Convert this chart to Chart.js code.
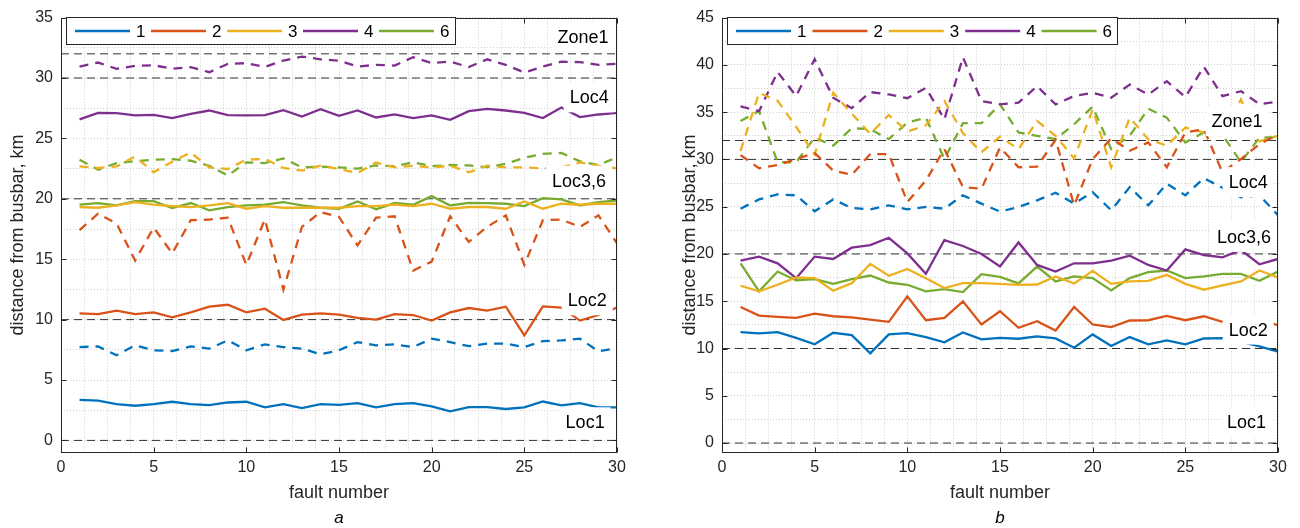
<!DOCTYPE html>
<html><head><meta charset="utf-8">
<script src="https://cdn.jsdelivr.net/npm/chart.js@4.4.1/dist/chart.umd.min.js"></script>
<style>
html,body{margin:0;padding:0;background:#fff;}
#wrap{position:relative;width:1300px;height:528px;overflow:hidden;}
.cv{position:absolute;top:0;width:650px;height:528px;}
</style></head><body>
<div id="wrap">
<div class="cv" style="left:0"><canvas id="ca" width="650" height="528"></canvas></div>
<div class="cv" style="left:650px"><canvas id="cb" width="650" height="528"></canvas></div>
</div>
<script>
// ---------- data ----------
const faultNumbers = [1,2,3,4,5,6,7,8,9,10,11,12,13,14,15,16,17,18,19,20,21,22,23,24,25,26,27,28,29,30];
const seriesNames = ['1','2','3','4','6'];
const xTickLabels = [0,5,10,15,20,25,30];
const yTickLabelsA = [0,5,10,15,20,25,30,35];
const yTickLabelsB = [0,5,10,15,20,25,30,35,40,45];
const refLevels = [0,10,20,30,32];

// panel a, solid lines
const a1Solid = [3.36,3.30,3.00,2.87,3.00,3.20,3.00,2.92,3.14,3.20,2.73,3.00,2.68,3.00,2.95,3.09,2.73,3.00,3.09,2.81,2.40,2.75,2.75,2.60,2.73,3.22,2.90,3.09,2.73,2.73];
const a2Solid = [10.52,10.46,10.74,10.46,10.60,10.19,10.60,11.07,11.23,10.60,10.90,9.97,10.41,10.52,10.41,10.14,10.00,10.46,10.38,9.92,10.60,10.96,10.74,11.07,8.69,11.09,11.00,9.92,10.38,11.00];
const a3Solid = [19.32,19.26,19.45,19.73,19.51,19.40,19.32,19.45,19.64,19.18,19.40,19.26,19.26,19.26,19.26,19.40,19.40,19.51,19.40,19.59,19.18,19.32,19.32,19.18,19.78,19.18,19.59,19.51,19.59,19.59];
const a4Solid = [26.57,27.12,27.09,26.90,26.95,26.68,27.03,27.31,26.92,26.90,26.92,27.34,26.81,27.42,26.87,27.31,26.73,26.98,26.68,26.90,26.54,27.25,27.45,27.31,27.12,26.68,27.56,26.76,26.98,27.12];
const a6Solid = [19.51,19.65,19.45,19.81,19.81,19.24,19.65,19.05,19.32,19.45,19.51,19.73,19.45,19.26,19.18,19.78,19.13,19.65,19.51,20.22,19.45,19.67,19.65,19.59,19.40,20.06,19.95,19.45,19.73,19.86];
// panel a, dashed lines
const a1Dash = [7.73,7.78,7.05,7.87,7.46,7.40,7.78,7.60,8.28,7.46,7.95,7.73,7.60,7.13,7.46,8.14,7.87,7.95,7.73,8.42,8.14,7.80,8.01,8.01,7.73,8.22,8.28,8.42,7.38,7.65];
const a2Dash = [17.40,18.77,17.95,14.89,17.62,15.48,18.23,18.28,18.44,14.53,18.30,12.48,17.68,18.90,18.50,16.14,18.44,18.55,14.06,14.80,18.55,16.44,17.68,18.63,14.53,18.23,18.28,17.68,18.63,16.31];
const a3Dash = [22.68,22.55,22.68,23.50,22.20,23.07,23.83,22.60,22.47,23.24,23.30,22.55,22.33,22.74,22.47,22.14,23.01,22.60,22.74,22.60,22.74,22.20,22.74,22.60,22.60,22.52,22.60,23.01,22.74,22.52];
const a4Dash = [30.95,31.28,30.76,31.00,31.06,30.76,30.90,30.48,31.17,31.23,30.92,31.44,31.77,31.55,31.44,30.95,31.09,31.03,31.72,31.23,31.36,30.90,31.55,31.09,30.45,30.95,31.36,31.31,31.09,31.17];
const a6Dash = [23.23,22.41,22.96,23.12,23.23,23.29,23.15,22.74,21.92,23.01,22.96,23.34,22.60,22.66,22.60,22.50,22.76,22.70,23.03,22.70,22.80,22.76,22.62,22.90,23.40,23.72,23.80,23.10,22.80,23.44];

// panel b, solid lines
const b1Solid = [11.73,11.60,11.73,11.13,10.44,11.66,11.42,9.49,11.49,11.63,11.21,10.65,11.70,10.96,11.13,11.03,11.28,11.06,10.08,11.49,10.26,11.21,10.44,10.86,10.44,11.06,11.10,10.70,10.23,9.67];
const b2Solid = [14.39,13.48,13.34,13.24,13.69,13.41,13.30,13.06,12.82,15.51,12.99,13.24,14.99,12.54,13.94,12.19,12.89,11.91,14.39,12.54,12.26,12.96,12.99,13.45,12.99,13.41,12.82,12.90,13.00,12.47];
const b3Solid = [16.64,16.04,16.74,17.51,17.44,16.11,16.91,18.95,17.69,18.42,17.44,16.39,16.91,16.91,16.84,16.74,16.77,17.62,16.87,18.21,16.84,17.09,17.16,17.79,16.84,16.22,16.67,17.09,18.25,17.51];
const b4Solid = [19.30,19.72,19.01,17.44,19.72,19.47,20.66,20.94,21.71,20.06,17.90,21.47,20.84,20.00,18.67,21.22,18.84,18.14,19.01,19.01,19.30,19.82,18.84,18.25,20.48,19.89,19.65,20.42,18.91,19.47];
const b6Solid = [19.01,16.04,18.14,17.20,17.34,16.84,17.34,17.72,16.98,16.74,16.04,16.28,15.97,17.86,17.58,16.88,18.67,17.09,17.62,17.44,16.15,17.44,18.07,18.25,17.44,17.62,17.90,17.90,17.16,18.14];
// panel b, dashed lines
const b1Dash = [24.79,25.77,26.30,26.20,24.52,25.77,24.86,24.72,25.14,24.72,24.97,24.79,26.20,25.32,24.48,24.97,25.67,26.47,25.32,26.54,24.62,27.07,25.14,27.42,26.20,28.02,27.00,26.00,26.20,24.10];
const b2Dash = [30.46,29.06,29.41,30.04,30.67,28.82,28.36,30.57,30.57,25.49,27.77,31.09,27.07,26.89,31.27,29.17,29.24,32.08,25.14,30.04,32.22,30.92,31.80,29.17,32.85,33.19,28.65,30.04,31.62,32.67];
const b3Dash = [30.90,37.05,36.20,33.45,30.50,37.05,34.85,32.70,34.70,32.95,33.60,36.18,32.80,30.75,32.40,31.09,34.07,32.50,30.11,35.29,29.17,34.42,32.14,31.45,33.37,32.85,32.50,36.35,31.90,32.50];
const b4Dash = [35.60,35.10,39.25,36.70,40.60,36.52,35.42,37.12,36.87,36.47,37.57,34.24,40.80,36.18,35.82,36.00,37.75,35.82,36.70,37.05,36.52,37.92,36.87,38.27,36.60,39.80,36.70,37.22,35.85,36.10];
const b6Dash = [34.07,35.12,29.70,29.70,32.32,31.45,33.30,33.20,32.14,33.90,34.42,30.04,33.83,33.83,35.82,32.85,32.50,32.14,33.72,35.58,31.09,32.50,35.37,34.42,31.80,32.85,32.60,29.70,32.32,32.32];

// text annotations (data coordinates)
const notesA = [
  {text:'Zone1', x:28.17, y:33.4},
  {text:'Loc4', x:28.5, y:28.4},
  {text:'Loc3,6', x:27.95, y:21.5},
  {text:'Loc2', x:28.39, y:11.6},
  {text:'Loc1', x:28.28, y:1.5}
];
const notesB = [
  {text:'Zone1', x:27.79, y:34.05},
  {text:'Loc4', x:28.39, y:27.6},
  {text:'Loc3,6', x:28.17, y:21.8},
  {text:'Loc2', x:28.39, y:12.0},
  {text:'Loc1', x:28.3, y:2.18}
];

// ---------- styles ----------
const COLORS = ['#0072BD','#D95319','#EDB120','#7E2F8E','#77AC30'];
const FONT = "'Liberation Sans', Arial, Helvetica, sans-serif";
const AXC = '#262626';

function toXY(vals){ return vals.map((v,i)=>({x:faultNumbers[i], y:v})); }

function buildDatasets(solid, dashed){
  const ds = [];
  refLevels.forEach(v => ds.push({
    label:'ref', data:[{x:xTickLabels[0],y:v},{x:xTickLabels[xTickLabels.length-1],y:v}],
    borderColor:'#333333', borderWidth:1, borderDash:[8,5], pointRadius:0, order:3, isRef:true
  }));
  seriesNames.forEach((n,i)=>{
    ds.push({label:n, data:toXY(dashed[i]), borderColor:COLORS[i], borderWidth:2.3,
      borderDash:[9,7], pointRadius:0, tension:0, order:1, isDash:true});
  });
  seriesNames.forEach((n,i)=>{
    ds.push({label:n, data:toXY(solid[i]), borderColor:COLORS[i], borderWidth:2.3,
      pointRadius:0, tension:0, order:0});
  });
  return ds;
}

const decor = {
  id:'decor',
  afterDatasetsDraw(chart, args, o){
    const ctx = chart.ctx, ca = chart.chartArea, xs = chart.scales.x, ys = chart.scales.y;
    ctx.save();
    // annotations with white background
    ctx.font = '18px ' + FONT;
    ctx.textAlign = 'center'; ctx.textBaseline = 'middle';
    o.notes.forEach(n=>{
      const px = xs.getPixelForValue(n.x), py = ys.getPixelForValue(n.y);
      const w = ctx.measureText(n.text).width;
      ctx.fillStyle = '#fff';
      ctx.fillRect(px - w/2 - 6, py - 15, w + 12, 30);
      ctx.fillStyle = '#000';
      ctx.fillText(n.text, px, py + 1);
    });
    ctx.restore();
  },
  afterDraw(chart, args, o){
    const ctx = chart.ctx, ca = chart.chartArea, xs = chart.scales.x, ys = chart.scales.y;
    ctx.save();
    // box
    ctx.strokeStyle = AXC; ctx.lineWidth = 1;
    const L = Math.round(ca.left)+0.5, R = Math.round(ca.right)-0.5, T = Math.round(ca.top)+0.5, B = Math.round(ca.bottom)-0.5;
    ctx.strokeRect(L, T, R-L, B-T);
    // inward ticks
    ctx.beginPath();
    xTickLabels.forEach(v=>{
      const p = Math.round(xs.getPixelForValue(v))+0.5;
      ctx.moveTo(p, B); ctx.lineTo(p, B-5);
      ctx.moveTo(p, T); ctx.lineTo(p, T+5);
    });
    o.yTicks.forEach(v=>{
      const p = Math.round(ys.getPixelForValue(v))+0.5;
      ctx.moveTo(L, p); ctx.lineTo(L+5, p);
      ctx.moveTo(R, p); ctx.lineTo(R-5, p);
    });
    ctx.stroke();
    // legend
    const lx = ca.left + 5, ly = 17, lw = o.legendW, lh = 27;
    ctx.fillStyle = '#fff';
    ctx.fillRect(lx, ly, lw, lh);
    ctx.strokeStyle = AXC;
    ctx.strokeRect(Math.round(lx)+0.5, ly+0.5, lw, lh);
    ctx.font = '17px ' + FONT;
    ctx.textAlign = 'left'; ctx.textBaseline = 'middle';
    const solids = chart.data.datasets.filter(d=>!d.isRef && !d.isDash);
    solids.forEach((d,i)=>{
      const sx = lx + 9 + i*o.legendStep, cy = ly + lh/2 + 0.5;
      ctx.strokeStyle = d.borderColor; ctx.lineWidth = 2.3;
      ctx.beginPath(); ctx.moveTo(sx, cy); ctx.lineTo(sx+55, cy); ctx.stroke();
      ctx.fillStyle = '#000';
      ctx.fillText(d.label, sx + 61, cy + 1);
    });
    // caption
    ctx.font = 'italic 17px ' + FONT;
    ctx.textAlign = 'center'; ctx.textBaseline = 'middle';
    ctx.fillStyle = '#000';
    ctx.fillText(o.caption, (ca.left+ca.right)/2, 518);
    ctx.restore();
  }
};

function gridVals(min, max, step){ const r=[]; for(let v=min; v<=max+1e-9; v+=step) r.push(+v.toFixed(4)); return r; }

function makeChart(id, solid, dashed, yLabels, yMax, opts){
  const xGrid = gridVals(0, 30, 1.25);
  const yGrid = gridVals(0, yMax, 2.5);
  return new Chart(document.getElementById(id), {
    type:'line',
    data:{ datasets: buildDatasets(solid, dashed) },
    options:{
      responsive:false, animation:false, events:[],
      layout:{ padding:{ left:0, right:opts.padRight, top:14, bottom:0 } },
      plugins:{
        legend:{display:false}, tooltip:{enabled:false},
        decor:{ notes:opts.notes, yTicks:yLabels, caption:opts.caption, legendW:opts.legendW, legendStep:opts.legendStep }
      },
      scales:{
        x:{
          type:'linear', min:0, max:30,
          afterBuildTicks: s => { s.ticks = xGrid.map(v=>({value:v})); },
          afterFit: s => { s.height = 75.5; },
          ticks:{ autoSkip:false, maxRotation:0, padding:5, color:AXC,
            font:{family:FONT, size:16},
            callback: v => xTickLabels.includes(v) ? String(v) : '' },
          grid:{ color:'#cfcfcf', lineWidth:1, drawTicks:false },
          border:{ display:false, dash:[1,2] },
          title:{ display:true, text:'fault number', color:AXC,
            font:{family:FONT, size:18}, padding:{top:0, bottom:24.2} }
        },
        y:{
          type:'linear', min:-1, max:yMax,
          afterBuildTicks: s => { s.ticks = yGrid.map(v=>({value:v})); },
          afterFit: s => { s.width = opts.yWidth; },
          ticks:{ autoSkip:false, padding:8, color:AXC,
            font:{family:FONT, size:16},
            callback: v => yLabels.includes(v) ? String(v) : '' },
          grid:{ color:'#cfcfcf', lineWidth:1, drawTicks:false },
          border:{ display:false, dash:[1,2] },
          title:{ display:true, text:'distance from busbar, km', color:AXC,
            font:{family:FONT, size:18}, padding:{top:opts.yTitlePad, bottom:0} }
        }
      }
    },
    plugins:[decor]
  });
}

makeChart('ca',
  [a1Solid,a2Solid,a3Solid,a4Solid,a6Solid],
  [a1Dash,a2Dash,a3Dash,a4Dash,a6Dash],
  yTickLabelsA, 35,
  {padRight:33, yWidth:61, yTitlePad:7.2, notes:notesA, caption:'a', legendW:389, legendStep:76});
makeChart('cb',
  [b1Solid,b2Solid,b3Solid,b4Solid,b6Solid],
  [b1Dash,b2Dash,b3Dash,b4Dash,b6Dash],
  yTickLabelsB, 45,
  {padRight:22, yWidth:72, yTitlePad:29.2, notes:notesB, caption:'b', legendW:390, legendStep:76.4});
</script>
</body></html>
